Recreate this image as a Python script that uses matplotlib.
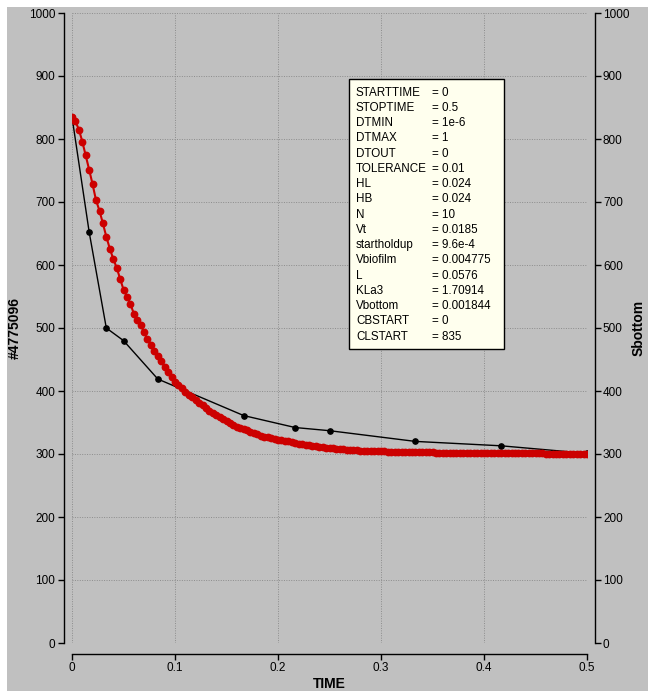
import matplotlib
matplotlib.use("Agg")
import matplotlib.pyplot as plt
from matplotlib.patches import Rectangle

plt.rcParams['font.family'] = ['Liberation Sans', 'DejaVu Sans']

# ---- data ----
black_t = [0.0, 0.0167, 0.0333, 0.05, 0.0833, 0.1667, 0.2167, 0.25, 0.3333, 0.4167, 0.5]
black_v = [835, 652, 500, 480, 419, 361, 342, 337, 320, 313, 301]

red_t = [0.0000, 0.0033, 0.0067, 0.0100, 0.0133, 0.0167, 0.0200, 0.0233, 0.0267, 0.0300,
         0.0333, 0.0367, 0.0400, 0.0433, 0.0467, 0.0500, 0.0533, 0.0567, 0.0600, 0.0633,
         0.0667, 0.0700, 0.0733, 0.0767, 0.0800, 0.0833, 0.0867, 0.0900, 0.0933, 0.0967,
         0.1000, 0.1033, 0.1067, 0.1100, 0.1133, 0.1167, 0.1200, 0.1233, 0.1267, 0.1300,
         0.1333, 0.1367, 0.1400, 0.1433, 0.1467, 0.1500, 0.1533, 0.1567, 0.1600, 0.1633,
         0.1667, 0.1700, 0.1733, 0.1767, 0.1800, 0.1833, 0.1867, 0.1900, 0.1933, 0.1967,
         0.2000, 0.2033, 0.2067, 0.2100, 0.2133, 0.2167, 0.2200, 0.2233, 0.2267, 0.2300,
         0.2333, 0.2367, 0.2400, 0.2433, 0.2467, 0.2500, 0.2533, 0.2567, 0.2600, 0.2633,
         0.2667, 0.2700, 0.2733, 0.2767, 0.2800, 0.2833, 0.2867, 0.2900, 0.2933, 0.2967,
         0.3000, 0.3033, 0.3067, 0.3100, 0.3133, 0.3167, 0.3200, 0.3233, 0.3267, 0.3300,
         0.3333, 0.3367, 0.3400, 0.3433, 0.3467, 0.3500, 0.3533, 0.3567, 0.3600, 0.3633,
         0.3667, 0.3700, 0.3733, 0.3767, 0.3800, 0.3833, 0.3867, 0.3900, 0.3933, 0.3967,
         0.4000, 0.4033, 0.4067, 0.4100, 0.4133, 0.4167, 0.4200, 0.4233, 0.4267, 0.4300,
         0.4333, 0.4367, 0.4400, 0.4433, 0.4467, 0.4500, 0.4533, 0.4567, 0.4600, 0.4633,
         0.4667, 0.4700, 0.4733, 0.4767, 0.4800, 0.4833, 0.4867, 0.4900, 0.4933, 0.4967,
         0.5000]
red_v = [835, 828, 815, 796, 774, 751, 728, 703, 686, 666,
         645, 626, 610, 596, 578, 561, 550, 538, 523, 513,
         505, 493, 482, 473, 464, 456, 447, 438, 430, 422,
         415, 409, 404, 398, 394, 390, 385, 381, 377, 373,
         369, 365, 361.5, 358.5, 355, 352, 349, 346, 343.5, 341.5,
         339.5, 337.5, 335.5, 333.5, 331, 329, 327.5, 326.5, 325.5, 324,
         322.5, 321.5, 320.7, 320, 319, 318, 316.5, 315.5, 314.7, 314,
         313.3, 312.5, 311.5, 310.7, 310, 309.3, 308.9, 308.5, 308, 307.5,
         307, 306.5, 306, 305.6, 305.3, 305.1, 304.9, 304.7, 304.5, 304.4,
         304.2, 304, 303.9, 303.8, 303.6, 303.4, 303.2, 303, 302.9, 302.8,
         302.7, 302.6, 302.6, 302.5, 302.4, 302.4, 302.3, 302.2, 302.1, 302.0,
         301.9, 301.9, 301.8, 301.8, 301.7, 301.7, 301.6, 301.6, 301.5, 301.5,
         301.4, 301.4, 301.3, 301.3, 301.2, 301.2, 301.1, 301.1, 301.1, 301.0,
         301.0, 301.0, 300.9, 300.9, 300.9, 300.8, 300.8, 300.8, 300.7, 300.7,
         300.7, 300.7, 300.6, 300.6, 300.6, 300.6, 300.5, 300.5, 300.5, 300.5,
         300.5]

x_ticks = [0, 0.1, 0.2, 0.3, 0.4, 0.5]
x_tick_labels = ["0", "0.1", "0.2", "0.3", "0.4", "0.5"]
y_ticks = [0, 100, 200, 300, 400, 500, 600, 700, 800, 900, 1000]

param_names = ["STARTTIME", "STOPTIME", "DTMIN", "DTMAX", "DTOUT", "TOLERANCE",
               "HL", "HB", "N", "Vt", "startholdup", "Vbiofilm", "L", "KLa3",
               "Vbottom", "CBSTART", "CLSTART"]
param_values = ["0", "0.5", "1e-6", "1", "0", "0.01", "0.024", "0.024", "10",
                "0.0185", "9.6e-4", "0.004775", "0.0576", "1.70914", "0.001844",
                "0", "835"]

x_label = "TIME"
y_label_left = "#4775096"
y_label_right = "Sbottom"

# ---- figure ----
W, H = 648, 691
GREY = '#c0c0c0'
fig = plt.figure(figsize=(W / 100, H / 100), dpi=100)
fig.patch.set_facecolor('white')
fig.add_artist(Rectangle((7 / W, 0), 1 - 7 / W, 1 - 7 / H, transform=fig.transFigure,
                         facecolor=GREY, edgecolor='none', zorder=-10))

left, right, top, bottom = 72, 587, 13, 643
ax = fig.add_axes([left / W, 1 - bottom / H, (right - left) / W, (bottom - top) / H])
ax.set_facecolor('none')
ax.set_xlim(0, 0.5)
ax.set_ylim(0, 1000)

ax.plot(black_t, black_v, color='black', lw=1.0, marker='o', ms=3.8, zorder=3)
ax.plot(red_t, red_v, color='#cc0000', lw=1.5, marker='o', ms=4.6,
        mec='#cc0000', mfc='#cc0000', zorder=4)

ax.set_xticks(x_ticks)
ax.set_xticklabels(x_tick_labels)
ax.set_yticks(y_ticks)
ax.grid(True, color='#8c8c8c', linestyle=(0, (1, 1.5)), linewidth=0.7)
ax.set_axisbelow(True)

for s in ['top', 'right']:
    ax.spines[s].set_visible(False)
ax.spines['left'].set_position(('outward', 6))
ax.spines['bottom'].set_position(('outward', 8))
for s in ['left', 'bottom']:
    ax.spines[s].set_linewidth(1.0)
ax.tick_params(axis='both', direction='out', length=4, width=1.0,
               labelsize=8.5, pad=2, colors='black')

ax2 = ax.twinx()
ax2.set_ylim(0, 1000)
ax2.set_yticks(y_ticks)
for s in ['top', 'left', 'bottom']:
    ax2.spines[s].set_visible(False)
ax2.spines['right'].set_position(('outward', 6))
ax2.spines['right'].set_linewidth(1.0)
ax2.tick_params(axis='y', direction='out', length=4, width=1.0,
                labelsize=8.5, pad=1.5)

fig.text((left + right) / 2 / W, 1 - 684 / H, x_label,
         ha='center', va='center', fontsize=10, fontweight='bold')
fig.text(15 / W, 1 - 328 / H, y_label_left, rotation=90, ha='center', va='center',
         fontsize=10, fontweight='bold')
fig.text(639 / W, 1 - 328 / H, y_label_right, rotation=90, ha='center', va='center',
         fontsize=10, fontweight='bold')

# parameter box
bx0, by0, bx1, by1 = 349, 79, 504, 349
fig.add_artist(Rectangle((bx0 / W, 1 - by1 / H), (bx1 - bx0) / W, (by1 - by0) / H,
                         transform=fig.transFigure, facecolor='#ffffee',
                         edgecolor='black', linewidth=1.0, zorder=10))
line0, step = 92.7, 15.25
for i, (nm, val) in enumerate(zip(param_names, param_values)):
    yy = 1 - (line0 + i * step) / H
    fig.text(356 / W, yy, nm, ha='left', va='center', fontsize=8.4, zorder=11)
    fig.text(432 / W, yy, "= " + val, ha='left', va='center', fontsize=8.4, zorder=11)

fig.savefig('out.png', dpi=100, facecolor=fig.get_facecolor())
